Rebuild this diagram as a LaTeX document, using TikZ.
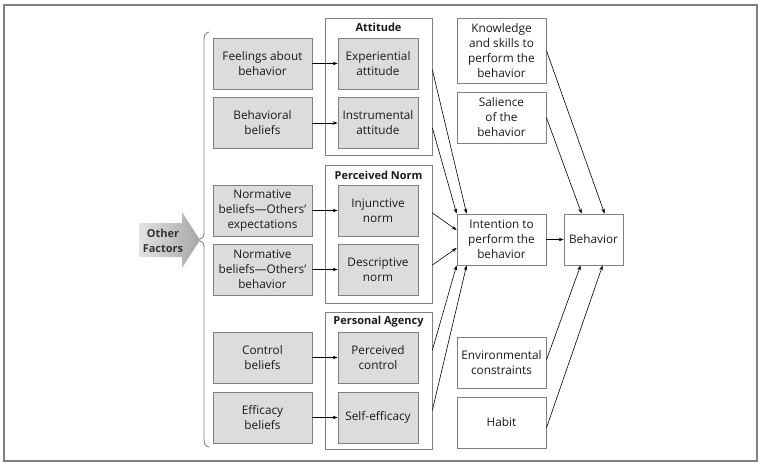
\documentclass[tikz,border=0pt]{standalone}
\usepackage{fontspec}
\setmainfont{Open Sans}
\usetikzlibrary{arrows.meta,calc}
\definecolor{boxfill}{HTML}{DCDCDC}
\definecolor{edge}{HTML}{808080}
\definecolor{ink}{HTML}{1A1A1A}
\begin{document}
\begin{tikzpicture}[x=1pt,y=-1pt,
  every node/.style={font=\fontsize{11.8}{15}\selectfont, text=ink, align=center, inner sep=0pt},
  gbox/.style={draw=edge, fill=boxfill, line width=0.8pt, minimum width=99pt, minimum height=51pt},
  ibox/.style={draw=edge, fill=boxfill, line width=0.8pt, minimum width=80pt, minimum height=51pt},
  wbox/.style={draw=edge, fill=white, line width=0.8pt, minimum width=89pt, minimum height=51pt},
  grp/.style={draw=edge, line width=0.8pt, minimum width=107pt},
  gtitle/.style={font=\fontsize{11}{15}\selectfont\bfseries},
  arr/.style={-{Stealth[length=5pt,width=3.6pt]}, line width=0.6pt, draw=black}
]
\useasboundingbox (0,0) rectangle (762,467);
\draw[edge, line width=1.4pt] (4,5) rectangle (757,461);

% groups
\node[grp, minimum height=137pt] (att) at (378.5,86.5) {};
\node[grp, minimum height=138pt] (nrm) at (378.5,234) {};
\node[grp, minimum height=137pt] (agc) at (378.5,380.5) {};
\node[gtitle] (attT) at (378.5,27) {Attitude};
\node[gtitle] (nrmT) at (378.5,175) {Perceived Norm};
\node[gtitle] (agcT) at (378.5,322) {Personal Agency};

% left column
\node[gbox] (feel) at (262.5,63.5) {Feelings about\\behavior};
\node[gbox] (behb) at (262.5,123) {Behavioral\\beliefs};
\node[gbox] (nb1) at (262.5,210.5) {Normative\\beliefs—Others’\\expectations};
\node[gbox] (nb2) at (262.5,269.5) {Normative\\beliefs—Others’\\behavior};
\node[gbox] (ctl) at (262.5,357.5) {Control\\beliefs};
\node[gbox] (eff) at (262.5,417.5) {Efficacy\\beliefs};

% inner boxes
\node[ibox] (exp) at (378,63.5) {Experiential\\attitude};
\node[ibox] (ins) at (378,123) {Instrumental\\attitude};
\node[ibox] (inj) at (378,210.5) {Injunctive\\norm};
\node[ibox] (des) at (378,269.5) {Descriptive\\norm};
\node[ibox] (pct) at (378,357.5) {Perceived\\control};
\node[ibox] (sef) at (378,417.5) {Self-efficacy};

% right column
\node[wbox, minimum height=65pt] (knw) at (501.5,50.5) {Knowledge\\and skills to\\perform the\\behavior};
\node[wbox] (sal) at (501.5,117.5) {Salience\\of the\\behavior};
\node[wbox] (int) at (501.5,239.5) {Intention to\\perform the\\behavior};
\node[wbox] (env) at (501.5,363) {Environmental\\constraints};
\node[wbox] (hab) at (501.5,422.5) {Habit};
\node[draw=edge, fill=white, line width=0.8pt, minimum width=59pt, minimum height=51pt] (beh) at (593.5,239.5) {Behavior};

% brace
\draw[edge, line width=0.9pt] (209,32) .. controls (205,33) and (204,35) .. (204,40) -- (204,232)
  .. controls (204,237) .. (198,240) .. controls (204,243) .. (204,248) -- (204,439)
  .. controls (204,444) and (205,446) .. (209,447);

% other factors arrow
\shade[left color=gray!22, right color=gray!70]
  (139,223) -- (182,223) -- (182,212) -- (200,240) -- (182,268) -- (182,257) -- (139,257) -- cycle;
\node[font=\fontsize{11}{15}\selectfont\bfseries, text=black!80] (oth) at (163,240.5) {Other\\Factors};

% arrows left -> inner
\draw[arr] (feel.east) -- (exp.west);
\draw[arr] (behb.east) -- (ins.west);
\draw[arr] (nb1.east) -- (inj.west);
\draw[arr] (nb2.east) -- (des.west);
\draw[arr] (ctl.east) -- (pct.west);
\draw[arr] (eff.east) -- (sef.west);

% groups -> intention
\draw[arr] ($(exp.east -| att.east)+(0,6.5)$) -- ($(int.north west)+(10,0)$);
\draw[arr] ($(ins.east -| att.east)+(0,5)$) -- ($(int.north west)+(0,0)$);
\draw[arr] ($(inj.east -| nrm.east)+(0,2.5)$) -- ($(int.west)+(0,-9.5)$);
\draw[arr] ($(des.east -| nrm.east)+(0,-4.5)$) -- ($(int.west)+(0,8.5)$);
\draw[arr] ($(pct.east -| agc.east)+(0,-7.5)$) -- ($(int.south west)+(0,0)$);
\draw[arr] ($(sef.east -| agc.east)+(0,-7.5)$) -- ($(int.south west)+(10,0)$);

% -> behavior
\draw[arr] (int.east) -- (beh.west);
\draw[arr] ($(knw.east)+(0,0)$) -- ($(beh.north west)+(41,0)$);
\draw[arr] ($(sal.east)+(0,0)$) -- ($(beh.north west)+(18,0)$);
\draw[arr] ($(env.east)+(0,-3)$) -- ($(beh.south west)+(17,0)$);
\draw[arr] ($(hab.east)+(0,5.5)$) -- ($(beh.south west)+(39,0)$);
\end{tikzpicture}
\end{document}
